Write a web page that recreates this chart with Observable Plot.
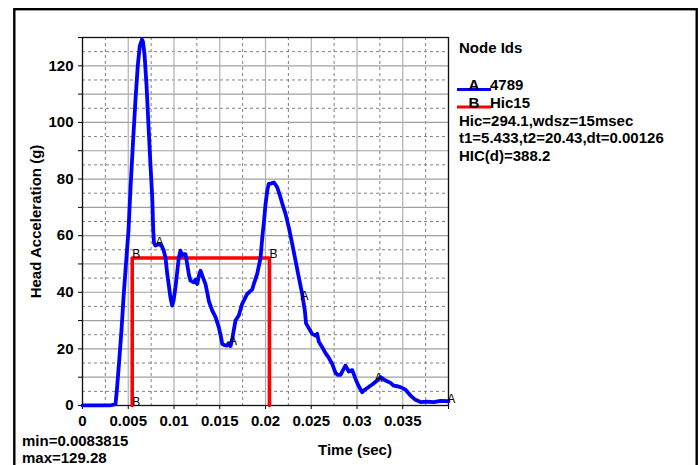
<!DOCTYPE html>
<html>
<head>
<meta charset="utf-8">
<script src="https://cdn.jsdelivr.net/npm/d3@7"></script>
<script src="https://cdn.jsdelivr.net/npm/@observablehq/plot@0.6"></script>
<style>
  html, body { margin: 0; padding: 0; background: #fff; }
  #chart svg { display: block; }
</style>
</head>
<body>
<div id="chart"></div>
<script>
// ---- Data ----
const timeSec = [
  0, 0.001, 0.002, 0.003, 0.00361, 0.00377, 0.00399, 0.00426, 0.00448, 0.00475,
  0.00503, 0.00525, 0.00552, 0.00579, 0.00604, 0.00626, 0.00650, 0.00661, 0.00678, 0.00700,
  0.00721, 0.00743, 0.00762, 0.00773, 0.00781, 0.00798, 0.00831, 0.00863, 0.00885, 0.00907,
  0.00926, 0.00945, 0.00962, 0.00980, 0.00995, 0.01016, 0.01038, 0.01053, 0.01071, 0.01087,
  0.01101, 0.01126, 0.01144, 0.01164, 0.01180, 0.01216, 0.01235, 0.01254, 0.01273, 0.01290,
  0.01308, 0.01344, 0.01366, 0.01380, 0.01418, 0.01454, 0.01490, 0.01508, 0.01527, 0.01552,
  0.01581, 0.01596, 0.01618, 0.01639, 0.01672, 0.01708, 0.01745, 0.01800, 0.01855, 0.01872,
  0.01909, 0.01945, 0.01967, 0.01984, 0.02000, 0.02019, 0.02036, 0.02066, 0.02091, 0.02128,
  0.02164, 0.02191, 0.02219, 0.02255, 0.02292, 0.02328, 0.02364, 0.02401, 0.02430, 0.02443,
  0.02470, 0.02510, 0.02546, 0.02565, 0.02583, 0.02620, 0.02656, 0.02689, 0.02729, 0.02765,
  0.02792, 0.02820, 0.02847, 0.02874, 0.02910, 0.02948, 0.02984, 0.03016, 0.03057, 0.03082,
  0.03112, 0.03166, 0.03221, 0.03257, 0.03312, 0.03366, 0.03402, 0.03443, 0.03475, 0.03530,
  0.03585, 0.03639, 0.03694, 0.03767, 0.03839, 0.03913, 0.04000
];
const headAccel = [
  0.01, 0.01, 0.01, 0.01, 0.5, 6, 15, 26.5, 38, 50,
  62, 77, 93, 108, 120, 127, 129.28, 128.5, 124, 113,
  99, 85, 73.5, 62, 57.5, 56.5, 57, 56.5, 55, 52.3,
  46.5, 42, 38, 35.3, 37, 41.8, 48, 52.3, 54.7, 53,
  53.5, 53.5, 50, 46, 44.1, 43.5, 44.5, 42.9, 46, 47.6,
  46, 42.9, 39.5, 37, 33.5, 31.2, 27.6, 25, 21.8, 21.3,
  21.2, 22, 21, 24, 30, 31.8, 35.9, 39.4, 41, 42.9,
  46.5, 52, 60, 65.3, 71, 75.9, 78.3, 78.5, 78.8, 77.1,
  73.5, 70.5, 67.7, 62.9, 57.1, 51.2, 45.3, 39.4, 33.5, 29,
  27.5, 25.3, 24.7, 25.3, 22.5, 20.6, 18.5, 17, 14.7, 11.5,
  10.8, 10.8, 12.5, 14.1, 12, 12.5, 9.4, 7, 4.7, 5.5,
  6.2, 7.4, 8.8, 10, 8.8, 8, 7, 6.8, 6.5, 5.6,
  3.5, 2, 1.2, 1.4, 1.2, 1.6, 1.5
];
// HIC15 window: t1 = 5.433 ms, t2 = 20.43 ms, average acceleration level
const hicTime = [0.005433, 0.005433, 0.02043, 0.02043];
const hicAccel = [0, 52.1, 52.1, 0];

// Curve identification letters
const markerALetter = "A";
const markerATime = [0.00798, 0.01600, 0.02383, 0.03190, 0.03985];
const markerAAccel = [56.5, 21.2, 37.1, 8.2, 0.8];
const markerBLetter = "B";
const markerBTime = [0.005433, 0.005433, 0.02043];
const markerBAccel = [0, 52.1, 52.1];

// Axes
const xTicks = [0, 0.005, 0.01, 0.015, 0.02, 0.025, 0.03, 0.035, 0.04];
const xMinor = [0.0025, 0.0075, 0.0125, 0.0175, 0.0225, 0.0275, 0.0325, 0.0375];
const yTicks = [0, 10, 20, 30, 40, 50, 60, 70, 80, 90, 100, 110, 120, 130];
const yMinor = [5, 15, 25, 35, 45, 55, 65, 75, 85, 95, 105, 115, 125];
const yLabelEvery = 20;
const xLabel = "Time (sec)";
const yLabel = "Head Acceleration (g)";

// Legend / annotations
const legendTitle = "Node Ids";
const seriesLetters = ["A", "B"];
const seriesNames = ["4789", "Hic15"];
const seriesColors = ["#0000ff", "#ff0000"];
const infoLines = ["Hic=294.1,wdsz=15msec", "t1=5.433,t2=20.43,dt=0.00126", "HIC(d)=388.2"];
const statLines = ["min=0.0083815", "max=129.28"];

// ---- Build ----
const curve = timeSec.map((t, i) => ({t, a: headAccel[i]}));
const hic = hicTime.map((t, i) => ({t, a: hicAccel[i]}));
const marksA = markerATime.map((t, i) => ({t, a: markerAAccel[i], s: markerALetter}));
const marksB = markerBTime.map((t, i) => ({t, a: markerBAccel[i], s: markerBLetter}));

const font = "'Liberation Sans', Arial, Helvetica, sans-serif";

const chart = Plot.plot({
  width: 699,
  height: 465,
  marginLeft: 82,
  marginRight: 251,
  marginTop: 37,
  marginBottom: 60,
  style: {fontFamily: font, fontSize: "15px", fontWeight: "bold", color: "#000", background: "#fff"},
  x: {domain: [0, 0.04]},
  y: {domain: [0, 130]},
  marks: [
    Plot.ruleY(yMinor, {stroke: "#808080", strokeDasharray: "3,3", strokeWidth: 1}),
    Plot.ruleX(xMinor, {stroke: "#808080", strokeDasharray: "3,3", strokeWidth: 1}),
    Plot.ruleY(yTicks, {stroke: "#a0a0a0", strokeWidth: 1.2}),
    Plot.ruleX(xTicks, {stroke: "#b0b0b0", strokeWidth: 1.2}),
    Plot.axisY({
      ticks: yTicks,
      tickSize: 4,
      tickPadding: 5,
      tickFormat: d => (d % yLabelEvery === 0 && d <= 120 ? String(d) : ""),
      label: yLabel,
      labelAnchor: "center",
      labelArrow: "none",
      labelOffset: 52,
      stroke: "#000"
    }),
    Plot.axisX({
      ticks: xTicks,
      tickSize: 4,
      tickPadding: 6,
      tickFormat: d => (d >= 0.04 ? "" : String(+d.toFixed(3))),
      label: null,
      stroke: "#000"
    }),
    Plot.frame({stroke: "#111", strokeWidth: 1.3}),
    Plot.line(hic, {x: "t", y: "a", stroke: seriesColors[1], strokeWidth: 3.6, curve: "linear"}),
    Plot.line(curve, {x: "t", y: "a", stroke: seriesColors[0], strokeWidth: 3.8, strokeLinejoin: "round"}),
    Plot.text(marksA, {x: "t", y: "a", text: "s", textAnchor: "start", lineAnchor: "bottom", fontSize: 12, fontWeight: "normal", fill: "#000"}),
    Plot.text(marksB, {x: "t", y: "a", text: "s", textAnchor: "start", lineAnchor: "bottom", fontSize: 12, fontWeight: "normal", fill: "#000"})
  ]
});

document.getElementById("chart").appendChild(chart);

// ---- Annotations drawn onto the same SVG ----
const svg = d3.select(chart);
svg.append("rect")
  .attr("x", 14.3).attr("y", 9.2).attr("width", 682.4).attr("height", 520)
  .attr("fill", "none").attr("stroke", "#000").attr("stroke-width", 2.4);

const tx = (x, y, s, anchor = "start") => svg.append("text")
  .attr("x", x).attr("y", y).attr("text-anchor", anchor)
  .attr("font-family", font).attr("font-size", 15).attr("font-weight", "bold")
  .attr("fill", "#000").text(s);

tx(459, 53, legendTitle);
seriesLetters.forEach((L, i) => {
  const base = 90 + i * 17.5;
  svg.append("line").attr("x1", 457).attr("x2", 491).attr("y1", base - 0.5).attr("y2", base - 0.5)
    .attr("stroke", seriesColors[i]).attr("stroke-width", 3.2);
  tx(474, base, L, "middle");
  tx(490, base, seriesNames[i]);
});
infoLines.forEach((s, i) => tx(459, 125.5 + i * 17.5, s));
statLines.forEach((s, i) => tx(22, 446 + i * 16.5, s));
tx(355, 455, xLabel, "middle");
</script>
</body>
</html>
